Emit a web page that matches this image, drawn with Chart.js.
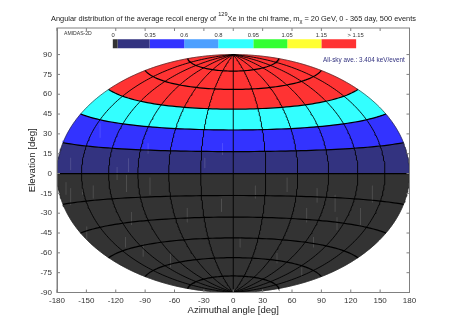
<!DOCTYPE html>
<html>
<head>
<meta charset="utf-8">
<script src="https://cdn.jsdelivr.net/npm/chart.js@4"></script>
<style>
body { margin: 0; background: #fff; }
</style>
</head>
<body>
<canvas id="grafico" width="458" height="321"></canvas>
<script>
// escala de cores: rotulos, cores, limites superiores e bordas no eixo x
const colorbarTicks = ["0", "0.35", "0.6", "0.8", "0.95", "1.05", "1.15", "> 1.15"];
const colorbarTickX = [-122.7, -85, -50, -15, 20.5, 55, 90, 125];
const colorbarColors = ["#333333", "#333380", "#3333ff", "#4c9fff", "#33ffff", "#33ff33", "#ffff33", "#ff3333"];
const colorbarLimits = [0, 0.35, 0.6, 0.8, 0.95, 1.05, 1.15, Infinity];
const colorbarEdges = [-123, -118.1, -85.4, -50.1, -15.3, 20.5, 55.2, 90, 125.5];
const colorbarRange = [94.7, 101.5];

// faixas de elevacao e a energia media relativa de cada uma
const bandEdges = [-90, -75, -60, -45, -30, -15, 0, 15, 30, 45, 60, 75, 90];
const bandValues = [0, 0, 0, 0, 0, 0, 0.25, 0.5, 0.9, 1.2, 1.2, 1.2];

// graticula
const meridians = [-150, -120, -90, -60, -30, 0, 30, 60, 90, 120, 150];
const parallels = [-75, -60, -45, -30, -15, 0, 15, 30, 45, 60, 75];

const xTicks = [-180, -150, -120, -90, -60, -30, 0, 30, 60, 90, 120, 150, 180];
const yTicks = [-90, -75, -60, -45, -30, -15, 0, 15, 30, 45, 60, 75, 90];

// riscos claros no mapa: x, y inicial, y final
const streakX = [-170.8, -166, -154, -143, -109, -104, -85, -47, -12, 22.5, 55, 85.6, 104, 142, 130, 75,
    -149.6, -110, -92, -64, 106, 82, 44.7, 7, 70,
    -166, -136, -118.6, -107, -87, -11, -29];
const streakTop = [-6.5, -11, -9, -9, -1, -29, -3, -26, -19, -9, -3, -11, -16, -9, -26, -26,
    -40, -48, -53, -60, -33, -48, -60, -48, -71,
    12, 38, 5, 11.5, 23, 23, 12];
const streakBottom = [-16, -24, -16, -19, -14, -39, -16, -37, -29, -19, -14, -22, -29, -22, -39, -37,
    -52, -56, -63, -71, -43, -56, -68, -56, -78,
    2.5, 27, -5, 1, 15, 14, 4];

const titleParts = ["Angular distribution of the average recoil energy of ", "129", "Xe in the chi frame, m", "χ", " = 20 GeV, 0 - 365 day, 500 events"];
const cornerLabel = "AMIDAS-2D";
const averageLabel = "All-sky ave.: 3.404 keV/event";

// projecao Hammer-Aitoff nas unidades dos eixos
function hammer(lon, lat) {
    const l = lon * Math.PI / 360;
    const p = lat * Math.PI / 180;
    const d = Math.sqrt(1 + Math.cos(p) * Math.cos(l));
    return {
        x: 180 * Math.cos(p) * Math.sin(l) / d,
        y: 90 * Math.sin(p) / d
    };
}

function parallelPoints(lat, from, to) {
    let pontos = [];
    const passos = 72;
    for (let i = 0; i <= passos; i++) {
        pontos.push(hammer(from + (to - from) * i / passos, lat));
    }
    return pontos;
}

function meridianPoints(lon, from = -90, to = 90) {
    let pontos = [];
    const passos = Math.round(Math.abs(to - from));
    for (let i = 0; i <= passos; i++) {
        pontos.push(hammer(lon, from + (to - from) * i / passos));
    }
    return pontos;
}

function colorFor(valor) {
    return colorbarColors[colorbarLimits.findIndex((limite) => valor <= limite)];
}

// o primeiro dataset fica por cima no Chart.js
let datasets = [];

parallels.forEach((lat) => {
    datasets.push({ data: parallelPoints(lat, -180, 180), borderColor: "#000", borderWidth: 1.2, fill: false });
});
meridians.forEach((lon) => {
    datasets.push({ data: meridianPoints(lon), borderColor: "#000", borderWidth: 0.9, fill: false });
});
[-180, 180].forEach((lon) => {
    datasets.push({ data: meridianPoints(lon), borderColor: "#222", borderWidth: 0.6, fill: false });
});

let riscos = [];
streakX.forEach((x, i) => {
    riscos.push({ x: x, y: streakTop[i] }, { x: x, y: streakBottom[i] }, { x: x, y: null });
});
datasets.push({ data: riscos, borderColor: "rgba(255,255,255,0.05)", borderWidth: 1, fill: false, spanGaps: false });

bandValues.forEach((valor, i) => {
    const contorno = parallelPoints(bandEdges[i], -180, 180)
        .concat(meridianPoints(180, bandEdges[i], bandEdges[i + 1]))
        .concat(parallelPoints(bandEdges[i + 1], 180, -180))
        .concat(meridianPoints(-180, bandEdges[i + 1], bandEdges[i]));
    datasets.push({
        data: contorno,
        backgroundColor: colorFor(valor),
        borderColor: colorFor(valor),
        borderWidth: 0.5,
        fill: "shape"
    });
});

colorbarColors.forEach((cor, i) => {
    datasets.push({
        data: [
            { x: colorbarEdges[i], y: colorbarRange[0] },
            { x: colorbarEdges[i + 1], y: colorbarRange[0] },
            { x: colorbarEdges[i + 1], y: colorbarRange[1] },
            { x: colorbarEdges[i], y: colorbarRange[1] }
        ],
        backgroundColor: cor,
        borderColor: cor,
        borderWidth: 0,
        fill: "shape"
    });
});

const decoracao = {
    id: "decoracao",
    afterDraw(chart) {
        const { ctx, chartArea: a, scales: { x, y } } = chart;
        ctx.save();

        // moldura e marcas para dentro
        ctx.strokeStyle = "#808080";
        ctx.lineWidth = 1;
        ctx.strokeRect(a.left, a.top, a.right - a.left, a.bottom - a.top);
        ctx.beginPath();
        xTicks.forEach((v) => {
            const px = x.getPixelForValue(v);
            ctx.moveTo(px, a.bottom); ctx.lineTo(px, a.bottom - 3);
            ctx.moveTo(px, a.top); ctx.lineTo(px, a.top + 3);
        });
        yTicks.forEach((v) => {
            const py = y.getPixelForValue(v);
            ctx.moveTo(a.left, py); ctx.lineTo(a.left + 3, py);
            ctx.moveTo(a.right, py); ctx.lineTo(a.right - 3, py);
        });
        ctx.stroke();

        // rotulos da escala de cores
        ctx.fillStyle = "#333";
        ctx.font = "5.8px 'Liberation Sans'";
        ctx.textAlign = "center";
        ctx.textBaseline = "alphabetic";
        colorbarTicks.forEach((t, i) => {
            ctx.fillText(t, x.getPixelForValue(colorbarTickX[i]), 36.8);
        });
        ctx.textAlign = "left";
        ctx.font = "5.1px 'Liberation Sans'";
        ctx.fillText(cornerLabel, 64, 35);

        ctx.fillStyle = "#333380";
        ctx.font = "6.35px 'Liberation Sans'";
        ctx.fillText(averageLabel, 323, 62);

        // titulo com sobrescrito e subscrito
        ctx.fillStyle = "#222";
        let cx = 51;
        titleParts.forEach((parte, i) => {
            const menor = i === 1 || i === 3;
            ctx.font = (menor ? 5.6 : 7.4) + "px 'Liberation Sans'";
            const dy = i === 1 ? 15.5 : (i === 3 ? 22.5 : 20.5);
            ctx.fillText(parte, cx, dy);
            cx += ctx.measureText(parte).width;
        });
        ctx.restore();
    }
};

new Chart(document.getElementById("grafico"), {
    type: "scatter",
    data: { datasets: datasets },
    plugins: [decoracao],
    options: {
        responsive: false,
        animation: false,
        layout: { padding: { top: 28, right: 48.5, left: 0, bottom: 0 } },
        elements: {
            point: { radius: 0 },
            line: { tension: 0 }
        },
        showLine: true,
        plugins: {
            legend: { display: false },
            tooltip: { enabled: false },
            title: { display: false }
        },
        scales: {
            x: {
                min: -180,
                max: 180,
                afterBuildTicks: (s) => { s.ticks = xTicks.map((v) => ({ value: v })); },
                afterFit: (s) => { s.height = 28.5; },
                grid: { display: false, drawTicks: false },
                border: { color: "#808080" },
                ticks: { maxRotation: 0, autoSkip: false, padding: 3, color: "#333", font: { family: "Liberation Sans", size: 8 } },
                title: { display: true, text: "Azimuthal angle [deg]", color: "#222", padding: { top: 0, bottom: 5 }, font: { family: "Liberation Sans", size: 9.5 } }
            },
            y: {
                min: -90,
                max: 110.1,
                afterBuildTicks: (s) => { s.ticks = yTicks.map((v) => ({ value: v })); },
                afterFit: (s) => { s.width = 57; },
                grid: { display: false, drawTicks: false },
                border: { color: "#808080" },
                ticks: { autoSkip: false, padding: 5, color: "#333", font: { family: "Liberation Sans", size: 8 } },
                title: { display: true, text: "Elevation [deg]", color: "#222", padding: { top: 27, bottom: 0 }, font: { family: "Liberation Sans", size: 9.7 } }
            }
        }
    }
});
</script>
</body>
</html>
